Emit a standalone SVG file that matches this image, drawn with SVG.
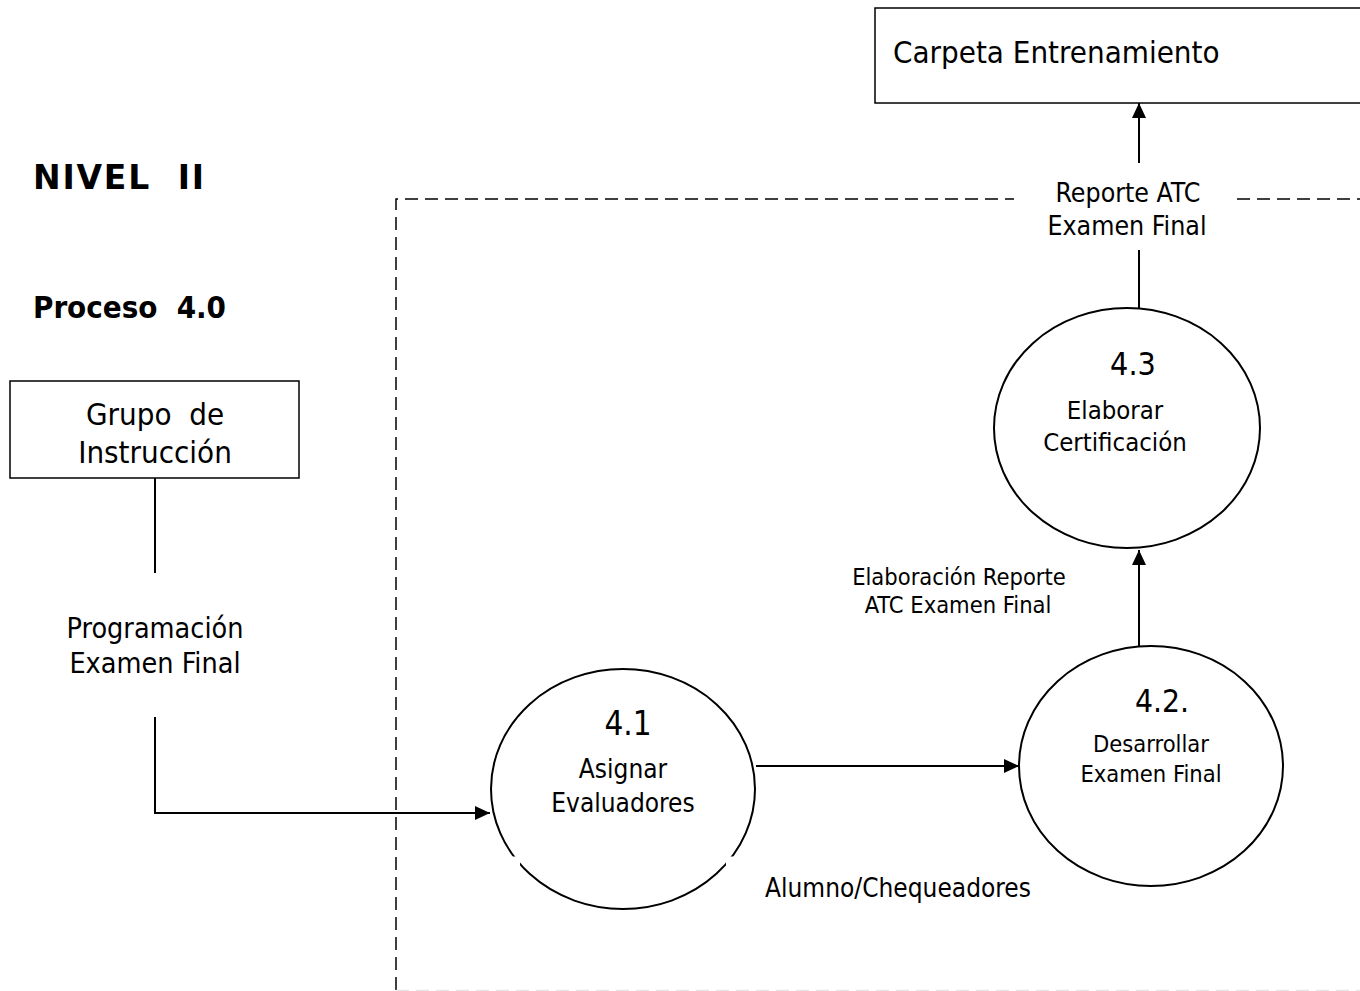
<svg xmlns="http://www.w3.org/2000/svg" width="1360" height="991" viewBox="0 0 1360 991">
<style>
text{font-family:"DejaVu Sans Condensed","DejaVu Sans",sans-serif;fill:#000;white-space:pre}
.b{font-weight:bold}
.w{font-family:"DejaVu Sans",sans-serif}
.box{fill:#fff;stroke:#000;stroke-width:1.5}
.proc{fill:#fff;stroke:#000;stroke-width:2}
.flow{fill:none;stroke:#000;stroke-width:2}
.bnd{fill:none;stroke:#000;stroke-width:1.5;stroke-dasharray:13 7}
</style>
<defs>
<marker id="ah" viewBox="0 0 15 14" refX="15" refY="7" markerWidth="15" markerHeight="14" markerUnits="userSpaceOnUse" orient="auto">
<path d="M0,0 L15,7 L0,14 Z" fill="#000"/>
</marker>
</defs>
<rect width="1360" height="991" fill="#fff"/>
<text class="b w" x="33" y="189" font-size="33" textLength="171">NIVEL  II</text>
<text class="b" x="33" y="318" font-size="31" textLength="193">Proceso  4.0</text>
<g id="boundary">
<path class="bnd" d="M396,990 L396,199 L1014,199"/>
<path class="bnd" d="M1237,199 L1360,199"/>
<line x1="396" y1="990.5" x2="1360" y2="990.5" stroke="#e6e6e6" stroke-width="1.5" stroke-dasharray="13 7"/>
</g>
<g id="carpeta">
<rect class="box" x="875" y="8" width="500" height="95"/>
<text x="893" y="63" font-size="31">Carpeta Entrenamiento</text>
</g>
<g id="grupo">
<rect class="box" x="10" y="381" width="289" height="97"/>
<text x="155" y="425" font-size="31" text-anchor="middle">Grupo  de</text>
<text x="155" y="463" font-size="31" text-anchor="middle">Instrucción</text>
</g>
<g id="p41">
<ellipse class="proc" cx="623" cy="789" rx="132" ry="120"/>
<line x1="511" y1="861" x2="520" y2="861" stroke="#fff" stroke-width="9"/>
<line x1="726" y1="861" x2="735" y2="861" stroke="#fff" stroke-width="9"/>
<text x="628" y="735" font-size="33" text-anchor="middle">4.1</text>
<text x="623" y="778" font-size="26" text-anchor="middle">Asignar</text>
<text x="623" y="812" font-size="26" text-anchor="middle">Evaluadores</text>
</g>
<g id="p42">
<ellipse class="proc" cx="1151" cy="766" rx="132" ry="120"/>
<text x="1162" y="712" font-size="31.5" text-anchor="middle">4.2.</text>
<text x="1151" y="752" font-size="23.5" text-anchor="middle">Desarrollar</text>
<text x="1151" y="782" font-size="23.5" text-anchor="middle">Examen Final</text>
</g>
<g id="p43">
<ellipse class="proc" cx="1127" cy="428" rx="133" ry="120"/>
<text x="1133" y="375" font-size="32" text-anchor="middle">4.3</text>
<text x="1115" y="419" font-size="25.5" text-anchor="middle">Elaborar</text>
<text x="1115" y="451" font-size="25.5" text-anchor="middle">Certificación</text>
</g>
<g id="connectors">
<line class="flow" x1="155" y1="478" x2="155" y2="573"/>
<text x="155" y="638" font-size="28.5" text-anchor="middle">Programación</text>
<text x="155" y="673" font-size="28.5" text-anchor="middle">Examen Final</text>
<path class="flow" d="M155,717 L155,813 L490,813" marker-end="url(#ah)"/>
<line class="flow" x1="756" y1="766" x2="1019" y2="766" marker-end="url(#ah)"/>
<text x="898" y="897" font-size="26" text-anchor="middle">Alumno/Chequeadores</text>
<line class="flow" x1="1139" y1="646" x2="1139" y2="550" marker-end="url(#ah)"/>
<text x="959" y="585" font-size="23.5" text-anchor="middle">Elaboración Reporte</text>
<text x="958" y="613" font-size="23.5" text-anchor="middle">ATC Examen Final</text>
<line class="flow" x1="1139" y1="309" x2="1139" y2="250"/>
<text x="1128" y="202" font-size="26.5" text-anchor="middle">Reporte ATC</text>
<text x="1127" y="235" font-size="26.5" text-anchor="middle">Examen Final</text>
<line class="flow" x1="1139" y1="163" x2="1139" y2="103" marker-end="url(#ah)"/>
</g>
</svg>
